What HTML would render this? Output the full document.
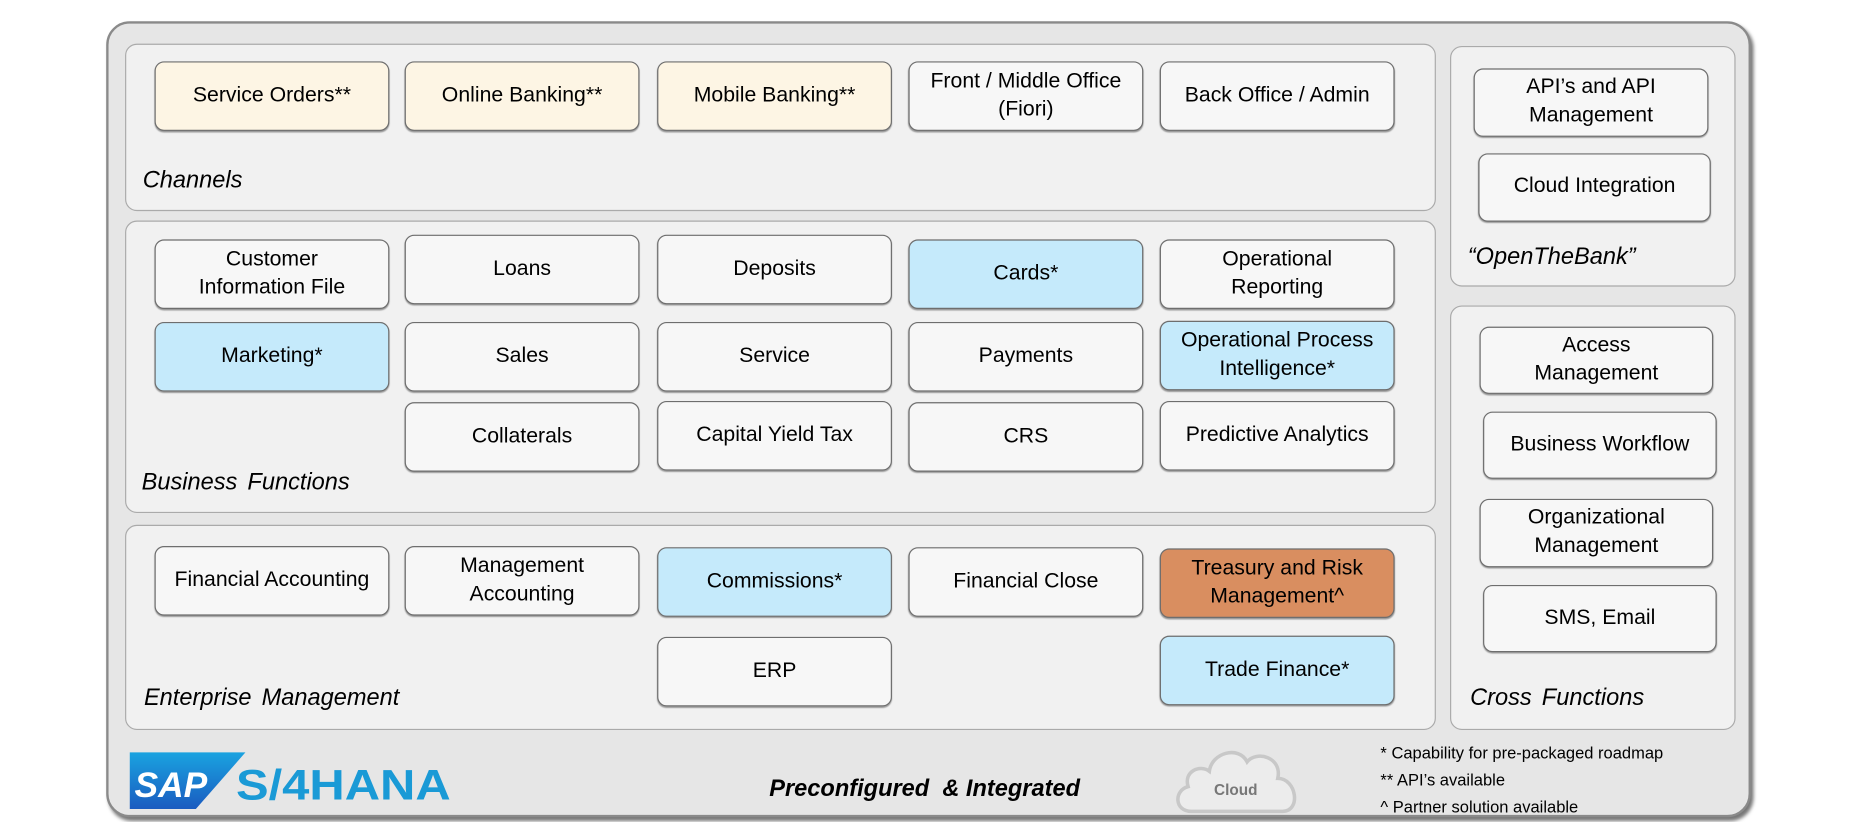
<!DOCTYPE html>
<html><head><meta charset="utf-8"><style>
*{margin:0;padding:0;box-sizing:border-box}
html,body{width:1850px;height:822px;overflow:hidden;background:#fff}
#w{position:absolute;left:0;top:0;width:1568px;height:697px;transform:scale(1.17985,1.17934);transform-origin:0 0;font-family:"Liberation Sans",sans-serif;color:#000}
.a{position:absolute}
.frame{left:90px;top:18px;width:1394px;height:675px;border:2px solid #8a8a8a;border-radius:20px;background:#e6e6e6;box-shadow:2px 3px 3px #777}
.p{position:absolute;border:1.5px solid #aaa;border-radius:10px;background:#f1f1f1}
.b{position:absolute;border:1.3px solid #6e6e6e;border-radius:8px;background:#f7f7f7;display:flex;align-items:center;justify-content:center;text-align:center;font-size:18px;line-height:24px;padding-bottom:4px;box-shadow:0 1px 1px #999}
.bl{background:#c5eafb}.cr{background:#fdf5e4}.or{background:#d98e60}
.l{position:absolute;font-style:italic;font-size:20px;word-spacing:3px}
</style></head><body><div id="w">
<div class="a frame"></div>
<div class="p" style="left:106px;top:37px;width:1111px;height:142px"></div>
<div class="p" style="left:106px;top:187px;width:1111px;height:248px"></div>
<div class="p" style="left:106px;top:445px;width:1111px;height:174px"></div>
<div class="p" style="left:1229px;top:39px;width:242px;height:204px"></div>
<div class="p" style="left:1229px;top:259px;width:242px;height:360px"></div>

<div class="b cr" style="left:131px;top:52px;width:199px;height:59px">Service Orders**</div>
<div class="b cr" style="left:343px;top:52px;width:199px;height:59px">Online Banking**</div>
<div class="b cr" style="left:557px;top:52px;width:199px;height:59px">Mobile Banking**</div>
<div class="b" style="left:770px;top:52px;width:199px;height:59px">Front / Middle Office<br>(Fiori)</div>
<div class="b" style="left:983px;top:52px;width:199px;height:59px">Back Office / Admin</div>
<div class="l" style="left:121px;top:142px">Channels</div>

<div class="b" style="left:131px;top:203px;width:199px;height:59px">Customer<br>Information File</div>
<div class="b" style="left:343px;top:199px;width:199px;height:59px">Loans</div>
<div class="b" style="left:557px;top:199px;width:199px;height:59px">Deposits</div>
<div class="b bl" style="left:770px;top:203px;width:199px;height:59px">Cards*</div>
<div class="b" style="left:983px;top:203px;width:199px;height:59px">Operational<br>Reporting</div>
<div class="b bl" style="left:131px;top:273px;width:199px;height:59px">Marketing*</div>
<div class="b" style="left:343px;top:273px;width:199px;height:59px">Sales</div>
<div class="b" style="left:557px;top:273px;width:199px;height:59px">Service</div>
<div class="b" style="left:770px;top:273px;width:199px;height:59px">Payments</div>
<div class="b bl" style="left:983px;top:272px;width:199px;height:59px">Operational Process<br>Intelligence*</div>
<div class="b" style="left:343px;top:341px;width:199px;height:59px">Collaterals</div>
<div class="b" style="left:557px;top:340px;width:199px;height:59px">Capital Yield Tax</div>
<div class="b" style="left:770px;top:341px;width:199px;height:59px">CRS</div>
<div class="b" style="left:983px;top:340px;width:199px;height:59px">Predictive Analytics</div>
<div class="l" style="left:120px;top:398px">Business Functions</div>

<div class="b" style="left:131px;top:463px;width:199px;height:59px">Financial Accounting</div>
<div class="b" style="left:343px;top:463px;width:199px;height:59px">Management<br>Accounting</div>
<div class="b bl" style="left:557px;top:464px;width:199px;height:59px">Commissions*</div>
<div class="b" style="left:770px;top:464px;width:199px;height:59px">Financial Close</div>
<div class="b or" style="left:983px;top:465px;width:199px;height:59px">Treasury and Risk<br>Management^</div>
<div class="b" style="left:557px;top:540px;width:199px;height:59px">ERP</div>
<div class="b bl" style="left:983px;top:539px;width:199px;height:59px">Trade Finance*</div>
<div class="l" style="left:122px;top:581px">Enterprise Management</div>

<div class="b" style="left:1249px;top:58px;width:199px;height:58px">API’s and API<br>Management</div>
<div class="b" style="left:1253px;top:130px;width:197px;height:58px">Cloud Integration</div>
<div class="l" style="left:1244px;top:207px">“OpenTheBank”</div>
<div class="b" style="left:1254px;top:277px;width:198px;height:57px">Access<br>Management</div>
<div class="b" style="left:1257px;top:349px;width:198px;height:57px">Business Workflow</div>
<div class="b" style="left:1254px;top:423px;width:198px;height:58px">Organizational<br>Management</div>
<div class="b" style="left:1257px;top:496px;width:198px;height:57px">SMS, Email</div>
<div class="l" style="left:1246px;top:581px">Cross Functions</div>

<svg class="a" style="left:108px;top:636px" width="280" height="52">
<defs><linearGradient id="g" x1="0" y1="0" x2="0" y2="1"><stop offset="0" stop-color="#1aa3e0"/><stop offset="1" stop-color="#1a5bc0"/></linearGradient></defs>
<polygon points="2,2 100,2 58,50 2,50" fill="url(#g)"/>
<text x="6" y="40" font-family="Liberation Sans" font-weight="bold" font-style="italic" font-size="30" fill="#fff">SAP</text>
<text x="92" y="42" font-family="Liberation Sans" font-weight="bold" font-size="36" fill="#1a9ad6" textLength="182" lengthAdjust="spacingAndGlyphs">S/4HANA</text>
</svg>
<div class="a" style="left:652px;top:658px;font-size:20px;font-weight:bold;font-style:italic">Preconfigured &nbsp;&amp; Integrated</div>
<svg class="a" style="left:995px;top:630px" width="115" height="62">
<path d="M15,58 C0,58 0,40 12,37 C8,24 22,18 30,24 C32,8 55,2 62,16 C70,6 92,12 88,30 C104,30 108,58 92,58 Z" fill="#ececec" stroke="#c8c8c8" stroke-width="3"/>
<text x="34" y="44" font-family="Liberation Sans" font-size="13" font-weight="bold" fill="#777">Cloud</text>
</svg>
<div class="a" style="left:1170px;top:627px;font-size:14px;line-height:23px">* Capability for pre-packaged roadmap<br>** API’s available<br>^ Partner solution available</div>
</div></body></html>
